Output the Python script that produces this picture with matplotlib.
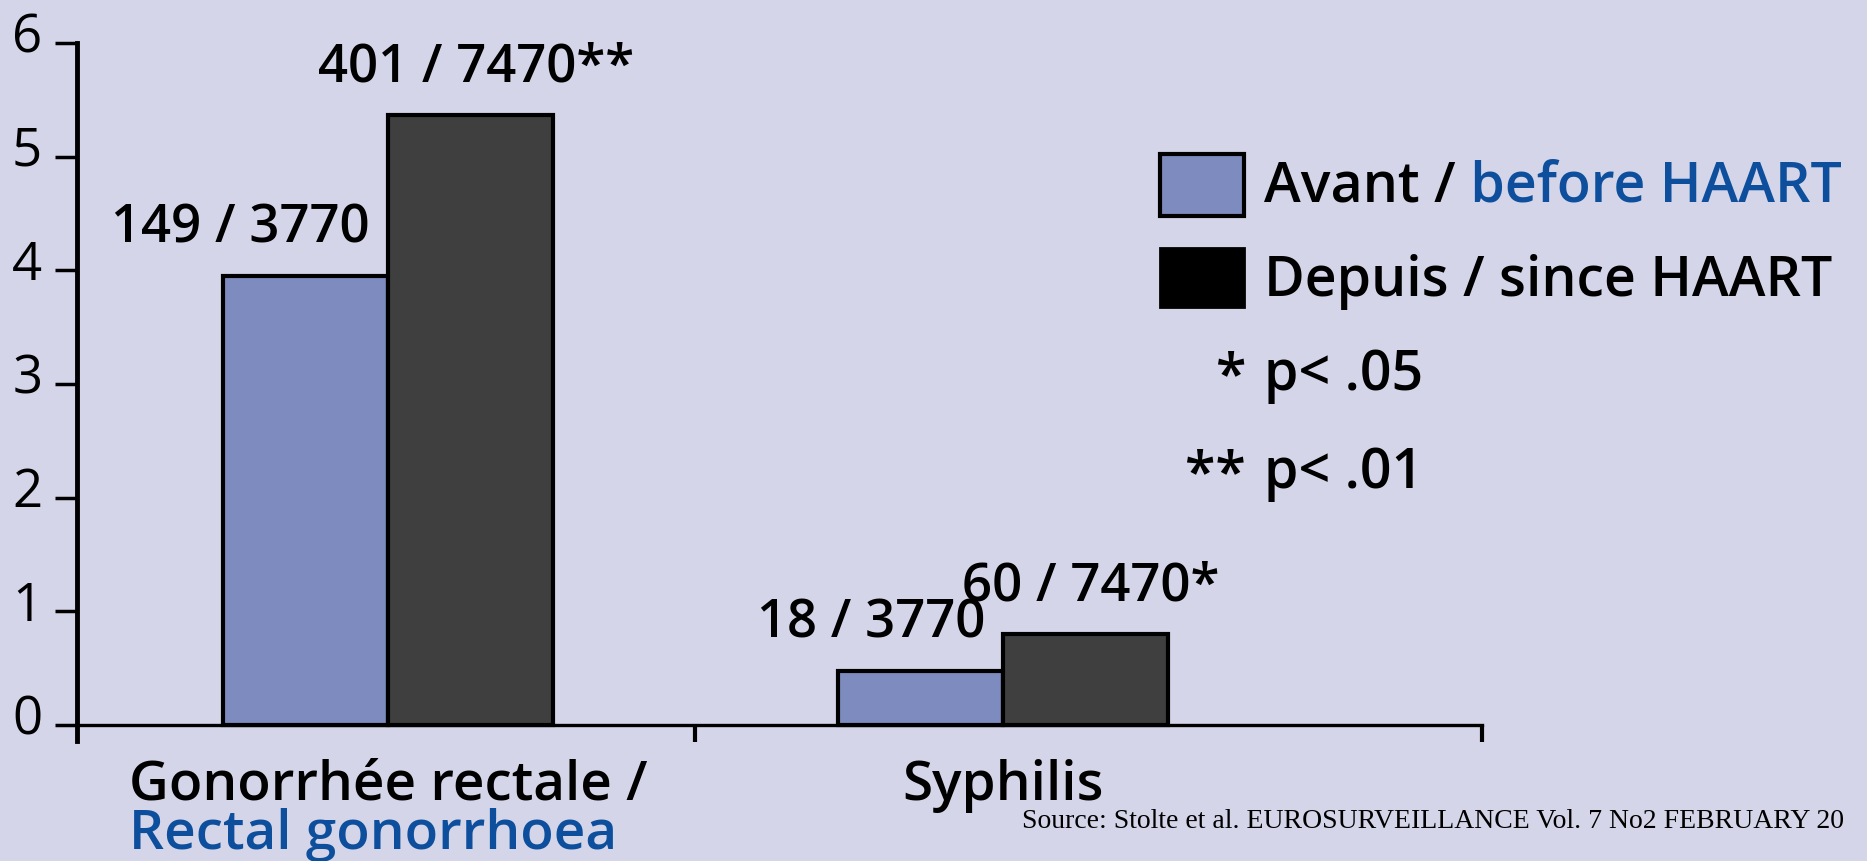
import matplotlib
matplotlib.use("Agg")
import matplotlib.pyplot as plt
import matplotlib.transforms as mtransforms
from matplotlib.patches import Rectangle

W, H, DPI = 1867, 862, 100

# cases / cohort size, before and since HAART
categories = ["Gonorrhée rectale /", "Syphilis"]
categories_en = ["Rectal gonorrhoea", ""]
cases_before = [149, 18]
total_before = [3770, 3770]
cases_since = [401, 60]
total_since = [7470, 7470]
signif_since = ["**", "*"]

before = [100 * c / n for c, n in zip(cases_before, total_before)]
since = [100 * c / n for c, n in zip(cases_since, total_since)]

y_ticks = [0, 1, 2, 3, 4, 5, 6]

BG = "#d4d5e8"
BLUE = "#7d8bbf"
DARK = "#3f3f3f"
TXT_BLUE = "#0d4f9c"

plt.rcParams["font.family"] = ["Open Sans", "DejaVu Sans"]


def fx(px):
    return px / W


def fy(py):
    return 1 - py / H


fig = plt.figure(figsize=(W / DPI, H / DPI), dpi=DPI, facecolor=BG)
ax = fig.add_axes([fx(77), fy(742), fx(1482) - fx(77), fy(44) - fy(742)])
ax.set_facecolor("none")

x = [0, 1]
w = 0.268
ax.bar([xi - w / 2 for xi in x], before, w, color=BLUE, edgecolor="black", linewidth=3)
ax.bar([xi + w / 2 for xi in x], since, w, color=DARK, edgecolor="black", linewidth=3)

ax.set_xlim(-0.5057, 1.779)
ax.set_ylim(-0.14, 6)

for s in ["top", "right"]:
    ax.spines[s].set_visible(False)
ax.spines["left"].set_linewidth(3.5)
ax.spines["bottom"].set_linewidth(2.4)
ax.spines["bottom"].set_position(("data", 0))

ax.set_xticks([0.5, 1.779])
ax.set_xticklabels(["", ""])
ax.tick_params(axis="x", direction="out", length=12, width=3)

ax.set_yticks(y_ticks)
ax.set_yticklabels([str(t) for t in y_ticks])
ax.tick_params(axis="y", direction="out", length=16, width=2.5, pad=9, labelsize=38)
lift = mtransforms.ScaledTranslation(0, 0.12, fig.dpi_scale_trans)
for lab in ax.get_yticklabels():
    lab.set_transform(lab.get_transform() + lift)

# counts above the bars
for i in range(len(x)):
    ax.annotate(f"{cases_before[i]} / {total_before[i]}",
                xy=(x[i], before[i]), xytext=(-13, 25), textcoords="offset points",
                ha="right", va="baseline", fontsize=38, fontweight="semibold")
    ax.annotate(f"{cases_since[i]} / {total_since[i]}{signif_since[i]}",
                xy=(x[i] + w / 2, since[i]), xytext=(4, 25), textcoords="offset points",
                ha="center", va="baseline", fontsize=38, fontweight="semibold")

# category labels under the axis
lab_tr = mtransforms.blended_transform_factory(ax.transData, fig.transFigure)
for i in range(len(x)):
    t = ax.text(x[i], fy(800), categories[i], transform=lab_tr, ha="center",
                va="baseline", fontsize=39.5, fontweight="semibold")
    if categories_en[i]:
        ax.annotate(categories_en[i], xy=(0, 0), xycoords=t, xytext=(0, -35),
                    textcoords="offset points", ha="left", va="bottom",
                    fontsize=39.5, fontweight="semibold", color=TXT_BLUE,
                    annotation_clip=False)

# legend
fig.add_artist(Rectangle((fx(1160), fy(217)), fx(1244) - fx(1160), fy(155) - fy(217),
                         transform=fig.transFigure, facecolor=BLUE, edgecolor="black", lw=3))
fig.add_artist(Rectangle((fx(1160), fy(308)), fx(1244) - fx(1160), fy(249) - fy(308),
                         transform=fig.transFigure, facecolor="black", edgecolor="black", lw=2))

t1 = fig.text(fx(1264), fy(202), "Avant /", fontsize=40, fontweight="semibold", va="baseline")
ax.annotate(" before HAART", xy=(1, 0), xycoords=t1, ha="left", va="bottom",
            fontsize=40, fontweight="semibold", color=TXT_BLUE, annotation_clip=False)
t2 = fig.text(fx(1264), fy(296), "Depuis / since HAART", fontsize=40,
              fontweight="semibold", va="baseline")

fig.text(fx(1246), fy(392), "*", fontsize=40, fontweight="semibold", ha="right", va="baseline")
fig.text(fx(1264), fy(390), "p< .05", fontsize=40, fontweight="semibold", va="baseline")
fig.text(fx(1246), fy(490), "**", fontsize=40, fontweight="semibold", ha="right", va="baseline")
fig.text(fx(1264), fy(488), "p< .01", fontsize=40, fontweight="semibold", va="baseline")

fig.text(fx(1022), fy(828), "Source: Stolte et al. EUROSURVEILLANCE Vol. 7 No2 FEBRUARY 20",
         fontsize=20, family="Liberation Serif", va="baseline")

fig.savefig("out.png", dpi=DPI, facecolor=BG)
